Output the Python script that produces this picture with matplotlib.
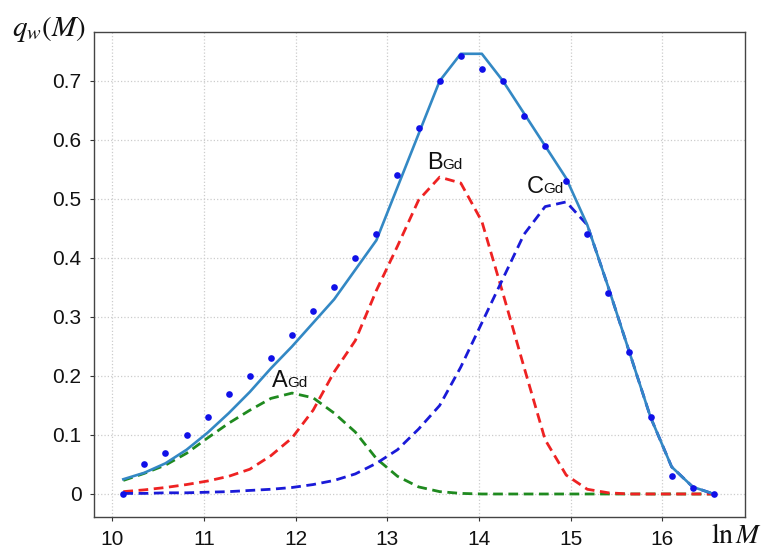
import matplotlib.pyplot as plt
import numpy as np

plt.rcParams['font.family'] = ['Liberation Sans', 'DejaVu Sans']
plt.rcParams['mathtext.fontset'] = 'stix'

# ln M grid shared by the points and the curves
lnM = [10.12, 10.35, 10.58, 10.81, 11.04, 11.27, 11.50, 11.73, 11.96, 12.19,
       12.42, 12.65, 12.88, 13.11, 13.34, 13.57, 13.80, 14.03, 14.26, 14.49,
       14.72, 14.95, 15.18, 15.41, 15.64, 15.87, 16.10, 16.33, 16.56]

# measured points
q_exp = [0.0, 0.05, 0.07, 0.10, 0.13, 0.17, 0.20, 0.23, 0.27, 0.31,
         0.35, 0.40, 0.44, 0.54, 0.62, 0.70, 0.742, 0.72, 0.70, 0.64,
         0.59, 0.53, 0.44, 0.34, 0.24, 0.13, 0.03, 0.01, 0.0]

# total fit
q_fit = [0.025, 0.036, 0.052, 0.075, 0.104, 0.137, 0.173, 0.213, 0.25, 0.29,
         0.33, 0.38, 0.43, 0.52, 0.61, 0.70, 0.746, 0.746, 0.70, 0.645,
         0.59, 0.535, 0.456, 0.35, 0.24, 0.13, 0.046, 0.012, 0.0]

# components
q_A = [0.023, 0.035, 0.049, 0.069, 0.095, 0.12, 0.142, 0.162, 0.171, 0.163,
       0.137, 0.105, 0.06, 0.03, 0.012, 0.004, 0.001, 0.0, 0.0, 0.0,
       0.0, 0.0, 0.0, 0.0, 0.0, 0.0, 0.0, 0.0, 0.0]
q_B = [0.004, 0.007, 0.011, 0.016, 0.022, 0.03, 0.042, 0.065, 0.095, 0.142,
       0.207, 0.26, 0.345, 0.42, 0.498, 0.537, 0.527, 0.462, 0.34, 0.215,
       0.092, 0.032, 0.008, 0.002, 0.0, 0.0, 0.0, 0.0, 0.0]
q_C = [0.001, 0.001, 0.002, 0.002, 0.003, 0.004, 0.006, 0.008, 0.011, 0.016,
       0.023, 0.034, 0.052, 0.075, 0.11, 0.15, 0.215, 0.29, 0.365, 0.44,
       0.487, 0.495, 0.456, 0.35, 0.24, 0.13, 0.046, 0.012, 0.0]

fig = plt.figure(figsize=(7.69, 5.51), dpi=100)
ax = fig.add_axes([0.1222, 0.0617, 0.8466, 0.8803])

dash = (3.5, 2)
ax.plot(lnM, q_A, color='#1f8a1f', lw=2.0, dashes=dash)
ax.plot(lnM, q_B, color='#ee2222', lw=2.0, dashes=dash)
ax.plot(lnM, q_C, color='#1a1ad8', lw=2.0, dashes=dash)
ax.plot(lnM, q_fit, color='#3388c4', lw=1.9)
ax.plot(lnM, q_exp, 'o', color='#1010e8', ms=4.8, mec='none')

ax.set_xlim(9.80, 16.90)
ax.set_ylim(-0.039, 0.783)
ax.set_xticks(range(10, 17))
ax.set_yticks([0, 0.1, 0.2, 0.3, 0.4, 0.5, 0.6, 0.7])
ax.set_yticklabels(['0', '0.1', '0.2', '0.3', '0.4', '0.5', '0.6', '0.7'])
ax.tick_params(labelsize=15, length=3, width=0.8, colors='#333333',
               labelcolor='#111111', pad=6)
ax.grid(True, color='#cccccc', ls=':', lw=0.9)
for s in ax.spines.values():
    s.set_color('#444444')
    s.set_linewidth(1.0)

# component labels
for xl, yl, big in [(11.91, 0.181, 'A'), (13.60, 0.551, 'B'), (14.70, 0.51, 'C')]:
    ax.text(xl, yl, big, fontsize=17, ha='right', va='baseline', color='#111111')
    ax.text(xl, yl, 'Gd', fontsize=11, ha='left', va='baseline', color='#111111')

fig.text(0.015, 0.935, r'$q_w(M)$', fontsize=21, color='#111111', va='baseline')
fig.text(0.925, 0.003, r'$\ln M$', fontsize=20, color='#111111', va='bottom')

fig.savefig('out.png', dpi=100)
